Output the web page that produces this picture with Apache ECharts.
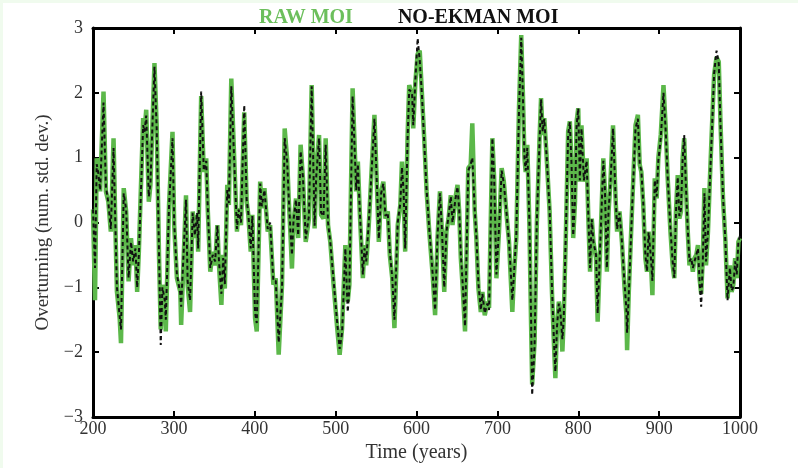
<!DOCTYPE html>
<html>
<head>
<meta charset="utf-8">
<script src="https://cdn.jsdelivr.net/npm/echarts@6/dist/echarts.min.js"></script>
<style>
html,body{margin:0;padding:0;background:#f0fbee;}
#chart{position:absolute;left:3px;top:3px;width:795px;height:465px;background:#fff;}
</style>
</head>
<body>
<div id="chart"></div>
<script>
// ---- data ----
const seriesNames = ['RAW MOI', 'NO-EKMAN MOI'];
const xTicks = [200, 300, 400, 500, 600, 700, 800, 900, 1000];
const yTicks = [-3, -2, -1, 0, 1, 2, 3];

const years = [
200,202.5,204.6,206.7,208.8,213,216,219,222,225.4,228,229.6,233,234.6,238,241,244,247,249.6,252.5,254.6,256.7,
262,263.75,265.8,269,271,276,278.75,281.7,283.75,285.8,288.75,290,294,298.3,300.4,303.75,308,309,315,317,320,
323.3,326,328.75,330,333.75,337,340,342,345,348,351,353.75,355.8,358.75,361,363,366,368,371,374.6,378,380,383,
387,390,392,395,397,400.4,402.5,406.7,408.75,412,416,419,423,426,429.6,433.75,437,440,442,444,446,448,451,
453.75,456.7,459.6,463,467,470.4,474,476,479.5,482,485,487.7,490.6,493.4,497.5,501.6,505,508,512,515,517,
521,525.5,527.5,530,533.7,535.7,537.8,541,548,551,553.4,556.3,559,561.6,564.5,567,570,572.7,576.8,580,582,
584,586,589,591,594.5,596,598.6,601.4,604,606.8,609.7,612.5,615.8,620,623,626,629,631.4,634.3,637,639.6,
642.4,644.5,648,650.7,652.8,654.8,656.9,660,664,667,669,672,674,676.6,679.5,681.5,684.4,687.7,689.7,693.8,
696,698.8,702,705.3,708,711,714.4,718.5,720.5,723.4,726.7,729.5,731.5,733.5,735,737,739.6,741.7,743,746,
748.75,752,754,756,758,761,764.6,767.5,770,771.7,773.75,776,778,780.4,782,784.6,787.5,789.6,791.7,793.75,
796,798,800,802,804,807,810.4,812.5,814.6,816.7,818.75,822,824,827,831,833,835.4,837.5,839.6,843,846,848,
851,854,857,859.6,860.4,862.5,866.7,870.8,873.75,876,878,880.4,883,885,887,889.6,891.7,894.6,897,899,902,
905.4,908,910.4,914,916.7,918.75,920.8,923,925,927,929,931,933,935.4,937.5,939.6,941.7,943.75,946,948,950,
952,954,956,958,960.4,962.5,965.4,968,971,973.75,976,979,982,984.6,987.5,989.6,991.7,994,996,998,1000
];

const rawMoi = [
0.2,-1.2,0.99,0.78,0.48,2.02,0.48,0.32,-0.14,1.3,-0.24,-1.07,-1.48,-1.86,0.53,0.17,-0.91,-0.24,-0.66,-0.35,-1.07,-0.45,
1.61,1.4,1.74,0.32,0.58,2.46,1.5,-0.55,-1.65,-0.96,-1.22,-1.68,0.27,1.4,-0.04,-0.86,-1.07,-1.58,0.42,-0.96,-1.38,
0.17,-0.24,0.12,-0.45,1.95,0.78,0.99,0.17,-0.76,-0.45,-0.66,-0.04,-0.66,-1.27,-0.5,-1.02,0.58,0.27,2.22,0.99,-0.14,0.22,-0.04,
1.7,0.32,0.12,-0.45,0.12,-1.48,-1.68,0.63,0.22,0.53,-0.14,-0.04,-0.96,-0.86,-2.04,-0.96,1.45,0.99,0.37,-0.14,-0.71,0.0,0.37,
-0.24,1.2,0.68,-0.3,0.06,2.12,-0.09,0.73,1.35,0.12,0.06,1.3,-0.04,-0.3,-0.96,-1.58,-2.04,-1.63,-0.35,-1.22,-0.96,
2.07,0.48,0.94,0.12,-0.86,-0.35,-0.66,-0.04,1.66,0.58,-0.3,0.48,0.63,0.06,0.17,-0.5,-0.86,-1.63,-0.04,0.27,0.94,
0.48,-0.45,1.35,2.12,1.97,1.45,2.17,2.6,2.65,1.97,1.25,0.48,-0.14,-0.81,-1.43,-0.24,0.48,-0.14,-1.07,-0.14,0.06,
0.42,-0.04,0.37,0.58,0.17,-0.55,-0.96,-1.68,0.84,0.89,1.53,0.17,-0.24,-1.02,-1.38,-1.07,-1.43,-1.22,-1.32,1.3,
0.68,-0.86,-0.14,0.84,0.63,0.17,-0.3,-1.38,-0.81,-0.24,1.76,2.89,2.02,0.99,0.78,1.2,-0.04,-1.58,-2.5,-1.84,
-0.04,1.25,1.92,1.35,1.61,0.99,0.17,-1.07,-1.89,-2.4,-1.58,-1.22,-1.43,-1.99,-1.48,-0.24,1.4,1.56,0.89,-0.24,
0.32,1.56,1.76,0.63,1.5,0.63,0.99,0.06,-0.76,0.06,-0.3,-0.55,-1.53,-0.45,0.99,0.48,-0.76,0.17,0.58,1.5,0.42,-0.14,
0.17,-0.3,-0.96,-1.43,-1.97,-1.07,0.27,1.5,1.66,0.89,0.78,0.27,-0.55,-0.76,-0.14,-0.55,-1.12,0.68,0.37,0.99,1.35,
2.12,1.5,0.73,-0.14,-0.66,-0.86,0.17,0.73,0.06,0.17,0.99,1.3,0.58,-0.14,-0.66,-0.55,-0.76,-0.55,-0.5,-0.35,-0.86,
-1.1,-0.55,0.53,-0.66,-0.14,0.58,1.5,2.28,2.55,2.48,1.5,0.37,-0.3,-1.17,-0.66,-1.07,-0.96,-0.55,-0.86,-0.3,-0.24
];

const noEkmanMoi = [
0.2,-0.7,0.9,0.75,0.5,1.85,0.55,0.3,-0.1,1.15,-0.2,-1.0,-1.45,-1.65,0.45,0.2,-0.85,-0.3,-0.6,-0.4,-1.0,-0.5,
1.5,1.4,1.65,0.4,0.6,2.4,1.45,-0.5,-1.89,-1.0,-1.2,-1.5,0.25,1.3,0.0,-0.8,-1.1,-1.3,0.35,-0.9,-1.2,
0.15,-0.2,0.15,-0.4,2.02,0.8,0.95,0.2,-0.7,-0.5,-0.6,-0.05,-0.6,-1.1,-0.55,-0.95,0.5,0.3,2.1,0.95,-0.1,0.2,0.0,
1.81,0.35,0.15,-0.4,0.1,-1.4,-1.55,0.6,0.25,0.5,-0.1,0.0,-0.9,-0.9,-1.85,-1.0,1.3,0.95,0.4,-0.1,-0.5,0.05,0.35,
-0.2,1.1,0.7,-0.25,0.1,2.1,-0.05,0.7,1.3,0.15,0.1,1.2,0.0,-0.3,-0.9,-1.5,-1.95,-1.7,-0.4,-1.38,-1.0,
1.95,0.5,0.9,0.15,-0.8,-0.4,-0.6,0.0,1.6,0.6,-0.25,0.45,0.6,0.1,0.15,-0.45,-0.85,-1.5,0.0,0.3,0.85,
0.5,-0.4,1.3,2.05,2.0,1.5,2.2,2.84,2.5,1.95,1.2,0.5,-0.1,-0.8,-1.35,-0.2,0.45,-0.1,-1.0,-0.15,0.1,
0.4,0.0,0.35,0.55,0.2,-0.5,-0.9,-1.6,0.8,0.9,1.0,0.2,-0.2,-0.95,-1.35,-1.1,-1.4,-1.25,-1.35,1.3,
0.7,-0.8,-0.1,0.8,0.6,0.2,-0.3,-1.2,-0.8,-0.2,1.7,2.85,2.0,1.0,0.8,1.15,0.0,-1.5,-2.66,-1.9,
0.0,1.2,1.9,1.4,1.6,1.0,0.2,-1.0,-1.85,-2.3,-1.6,-1.25,-1.4,-1.8,-1.5,-0.2,1.35,1.55,0.9,-0.2,
0.35,1.5,1.76,0.65,1.45,0.65,0.95,0.1,-0.7,0.05,-0.3,-0.5,-1.4,-0.4,0.95,0.5,-0.7,0.2,0.55,1.45,0.45,-0.1,
0.15,-0.3,-0.9,-1.35,-1.7,-1.1,0.25,1.45,1.6,0.9,0.8,0.3,-0.5,-0.75,-0.15,-0.5,-0.9,0.65,0.4,0.95,1.3,
2.0,1.45,0.75,-0.1,-0.6,-0.85,0.15,0.7,0.1,0.2,0.95,1.35,0.6,-0.1,-0.6,-0.55,-0.7,-0.6,-0.5,-0.4,-0.9,
-1.3,-0.6,0.45,-0.6,-0.15,0.55,1.45,2.3,2.65,2.45,1.45,0.4,-0.3,-1.2,-0.7,-1.05,-1.0,-0.6,-0.8,-0.3,-0.2
];

// ---- chart ----
const chart = echarts.init(document.getElementById('chart'), null, {renderer: 'canvas'});
const serif = '"Liberation Serif", "DejaVu Serif", serif';
const minusFmt = v => String(v).replace('-', '\u2212');
const pairs = arr => years.map((y, i) => [y, arr[i]]);

const frameLine = {show: true, onZero: false, lineStyle: {color: '#000', width: 3}};
const tickIn = {show: true, inside: true, length: 6, lineStyle: {color: '#000', width: 2}};

chart.setOption({
  animation: false,
  backgroundColor: '#fff',
  legend: {
    top: 0,
    left: 246,
    icon: 'none',
    itemWidth: 0,
    itemGap: 40,
    selectedMode: false,
    textStyle: {fontFamily: serif, fontSize: 20, fontWeight: 'bold'},
    data: [
      {name: seriesNames[0], textStyle: {color: '#6cbf5c'}},
      {name: seriesNames[1], textStyle: {color: '#111'}}
    ]
  },
  grid: {left: 90, top: 25, width: 647, height: 389},
  xAxis: [{
    type: 'value', min: 200, max: 1000, interval: 100, position: 'bottom',
    name: 'Time (years)', nameLocation: 'middle', nameGap: 22,
    nameTextStyle: {fontFamily: serif, fontSize: 20, color: '#333'},
    axisLine: frameLine, axisTick: tickIn, splitLine: {show: false},
    axisLabel: {fontFamily: serif, fontSize: 18, color: '#333', margin: 3,
      formatter: v => xTicks.includes(v) ? String(v) : ''}
  }, {
    type: 'value', min: 200, max: 1000, interval: 100, position: 'top',
    axisLine: frameLine, axisTick: tickIn, axisLabel: {show: false}, splitLine: {show: false}
  }],
  yAxis: [{
    type: 'value', min: -3, max: 3, interval: 1, position: 'left',
    name: 'Overturning (num. std. dev.)', nameLocation: 'middle', nameGap: 26,
    nameTextStyle: {fontFamily: serif, fontSize: 19, color: '#333'},
    axisLine: frameLine, axisTick: tickIn, splitLine: {show: false},
    axisLabel: {fontFamily: serif, fontSize: 18, color: '#333', margin: 10,
      formatter: v => yTicks.includes(v) ? minusFmt(v) : ''}
  }, {
    type: 'value', min: -3, max: 3, interval: 1, position: 'right',
    axisLine: frameLine, axisTick: tickIn, axisLabel: {show: false}, splitLine: {show: false}
  }],
  series: [{
    name: seriesNames[0], type: 'line', data: pairs(rawMoi),
    showSymbol: false, symbol: 'none', z: 2,
    lineStyle: {color: '#5cb84a', width: 4.5}, itemStyle: {color: '#5cb84a'}
  }, {
    name: seriesNames[1], type: 'line', data: pairs(noEkmanMoi),
    showSymbol: false, symbol: 'none', z: 3,
    lineStyle: {color: '#111', width: 2, type: [4, 3]}, itemStyle: {color: '#111'}
  }]
});
</script>
</body>
</html>
